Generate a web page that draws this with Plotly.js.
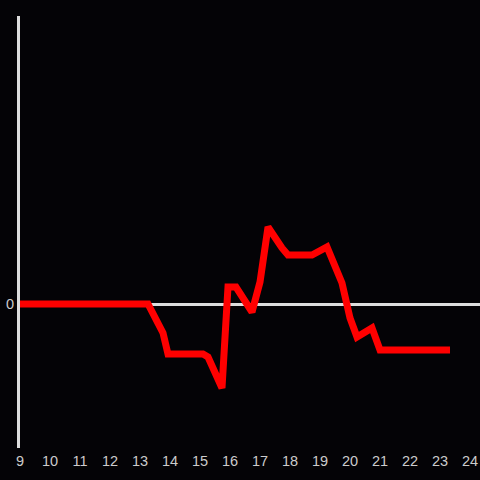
<!DOCTYPE html>
<html>
<head>
<meta charset="utf-8">
<script src="https://cdn.plot.ly/plotly-3.0.1.min.js"></script>
<style>html,body{margin:0;padding:0;background:#040306;}#chart{width:480px;height:480px;}</style>
</head>
<body>
<div id="chart"></div>
<script>
const hours = [9, 13.267, 13.767, 13.933, 15.1, 15.267, 15.733, 15.933, 16.2, 16.733, 17.0, 17.267, 17.733, 17.933, 18.733, 19.233, 19.733, 20.0, 20.233, 20.733, 21.0, 23.333];
const values = [0, 0, -2.9, -5.0, -5.0, -5.3, -8.4, 1.7, 1.7, -0.8, 2.2, 7.7, 5.6, 4.9, 4.9, 5.7, 2.1, -1.4, -3.3, -2.4, -4.6, -4.6];
const xTicks = [9,10,11,12,13,14,15,16,17,18,19,20,21,22,23,24];

Plotly.newPlot('chart', [{
  x: hours, y: values, type: 'scatter', mode: 'lines',
  line: {color: '#ff0000', width: 7},
  hoverinfo: 'skip'
}], {
  width: 480, height: 480,
  margin: {l: 20, r: 0, t: 16, b: 32},
  paper_bgcolor: '#040306', plot_bgcolor: '#040306',
  showlegend: false,
  font: {family: 'Liberation Sans, Arial, sans-serif', size: 14, color: '#cccccc'},
  xaxis: {
    range: [9, 24.333], tickvals: xTicks, ticktext: xTicks.map(String),
    showgrid: false, zeroline: false, showline: false, ticks: '',
    ticklabelstandoff: 2,
    tickfont: {size: 14.5, color: '#cccccc'}
  },
  yaxis: {
    range: [-14.4, 28.8], tickvals: [0], ticktext: ['0'],
    showgrid: false, zeroline: true, zerolinecolor: '#dddddd', zerolinewidth: 3,
    showline: true, linecolor: '#dddddd', linewidth: 3, ticks: '',
    tickfont: {size: 14.5, color: '#cccccc'}
  }
}, {displayModeBar: false, staticPlot: true});
</script>
</body>
</html>
